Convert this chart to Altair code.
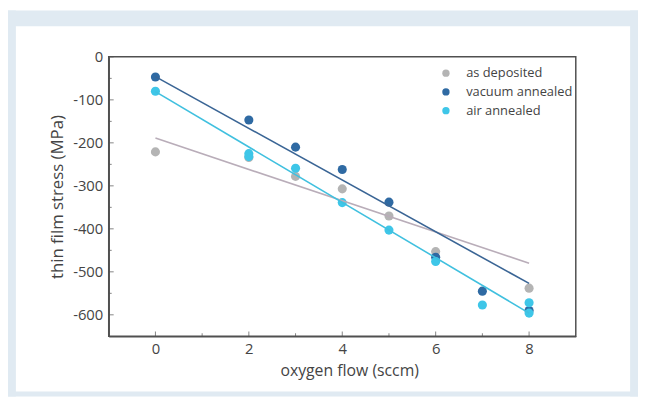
import altair as alt
import pandas as pd

# ---- data ----
series_names = ["as deposited", "vacuum annealed", "air annealed"]
point_colors = ["#b4b4b4", "#2f6aa3", "#3ec6e8"]
line_colors = ["#b9adb9", "#3a6595", "#40c0df"]

dep_x = [0, 2, 3, 4, 5, 6, 8]
dep_y = [-221, -234, -278, -307, -370, -453, -538]

vac_x = [0, 2, 3, 4, 5, 6, 7, 8]
vac_y = [-47, -147, -210, -262, -338, -466, -545, -590]

air_x = [0, 2, 2, 3, 4, 5, 6, 7, 8, 8]
air_y = [-80, -225, -232, -259, -339, -403, -476, -577, -572, -596]

fit_x = [0, 8]
fit_dep = [-189, -480]
fit_vac = [-46, -527]
fit_air = [-81, -596]

x_major = [0, 2, 4, 6, 8]
x_minor = [1, 3, 5, 7]
y_major = [0, -100, -200, -300, -400, -500, -600]
y_minor = [-50, -150, -250, -350, -450, -550]

# ---- tables ----
pts = pd.concat([
    pd.DataFrame({"x": dep_x, "y": dep_y, "series": series_names[0]}),
    pd.DataFrame({"x": vac_x, "y": vac_y, "series": series_names[1]}),
    pd.DataFrame({"x": air_x, "y": air_y, "series": series_names[2]}),
])
fits = pd.concat([
    pd.DataFrame({"x": fit_x, "y": fit_dep, "fit": series_names[0]}),
    pd.DataFrame({"x": fit_x, "y": fit_vac, "fit": series_names[1]}),
    pd.DataFrame({"x": fit_x, "y": fit_air, "fit": series_names[2]}),
])

W, H = 473, 283
BG = "#e0eaf2"
AX = "#505050"

xscale = alt.Scale(domain=[-1, 9], nice=False, zero=False)
yscale = alt.Scale(domain=[-650, 0], nice=False, zero=False)

xaxis = alt.Axis(values=x_major, title="oxygen flow (sccm)", ticks=False,
                 titleFontSize=16, titleX=W / 2 + 7)
yaxis = alt.Axis(values=y_major, title="thin film stress (MPa)", ticks=False,
                 titleFontSize=17)

one = pd.DataFrame({"a": [0]})


def strip(x0, x1, y0, y1):
    return alt.Chart(one).mark_rect(color=BG).encode(
        x=alt.value(x0), x2=alt.value(x1), y=alt.value(y0), y2=alt.value(y1)
    )


border = [
    strip(-102, 536, -47, -31),
    strip(-102, -94, -47, 344),
    strip(528, 536, -47, 344),
    strip(-102, 536, 339, 344),
]

points = alt.Chart(pts).mark_circle(size=85, opacity=1).encode(
    x=alt.X("x:Q", scale=xscale, axis=xaxis),
    y=alt.Y("y:Q", scale=yscale, axis=yaxis),
    color=alt.Color("series:N",
                    scale=alt.Scale(domain=series_names, range=point_colors),
                    legend=alt.Legend(title=None, orient="none", legendX=335, legendY=10,
                                      symbolType="circle", symbolSize=55,
                                      labelFontSize=13, labelOffset=14,
                                      rowPadding=5, padding=0)),
)

lines = alt.Chart(fits).mark_line(strokeWidth=1.6).encode(
    x=alt.X("x:Q", scale=xscale),
    y=alt.Y("y:Q", scale=yscale),
    detail="fit:N",
    color=alt.Color("fit:N", scale=alt.Scale(domain=series_names, range=line_colors), legend=None),
)

# inward tick marks (major and minor), positioned through the scales
yt_major = alt.Chart(pd.DataFrame({"v": y_major})).mark_tick(
    orient="horizontal", size=5, thickness=1, color=AX).encode(
    y=alt.Y("v:Q", scale=yscale), x=alt.value(2.5))
yt_minor = alt.Chart(pd.DataFrame({"v": y_minor})).mark_tick(
    orient="horizontal", size=3, thickness=1, color=AX).encode(
    y=alt.Y("v:Q", scale=yscale), x=alt.value(1.5))
xt_major = alt.Chart(pd.DataFrame({"v": x_major})).mark_tick(
    orient="vertical", size=5, thickness=1, color=AX).encode(
    x=alt.X("v:Q", scale=xscale), y=alt.value(H - 2.5))
xt_minor = alt.Chart(pd.DataFrame({"v": x_minor})).mark_tick(
    orient="vertical", size=3, thickness=1, color=AX).encode(
    x=alt.X("v:Q", scale=xscale), y=alt.value(H - 1.5))

chart = alt.layer(*border, yt_major, yt_minor, xt_major, xt_minor, points, lines).resolve_scale(
    color="independent").properties(
    width=W, height=H,
    background="white",
    padding={"left": 102, "top": 47, "right": 63, "bottom": 61},
    autosize=alt.AutoSizeParams(type="none"),
).configure(
    locale={"number": {"decimal": ".", "thousands": ",", "grouping": [3],
                       "currency": ["$", ""], "minus": "-"}}
).configure_view(stroke=AX, strokeWidth=1.5).configure_axis(
    grid=False,
    domainColor=AX, domainWidth=1.5,
    labelFont="Open Sans", titleFont="Open Sans",
    labelFontSize=15, labelColor="#444444", titleColor="#444444",
    titleFontWeight="normal", labelPadding=6,
).configure_axisY(titlePadding=6).configure_axisX(titlePadding=7, labelPadding=5).configure_legend(
    labelFont="Open Sans", labelColor="#444444"
)

chart.save("out.html", embed_options={"renderer": "svg", "actions": False})
